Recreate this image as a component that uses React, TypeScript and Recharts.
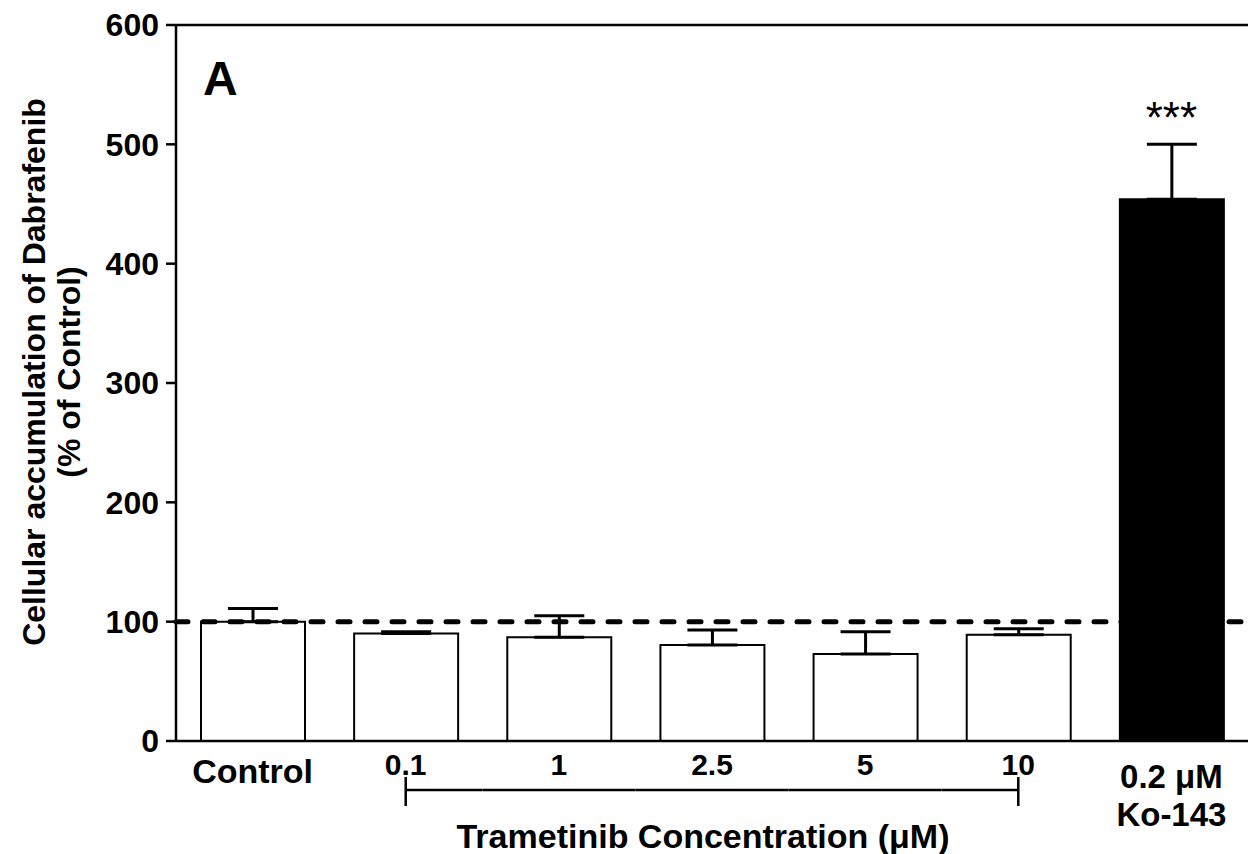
import { BarChart, Bar, XAxis, YAxis, ErrorBar, Cell, ReferenceLine, ReferenceDot } from 'recharts'

// Dabrafenib accumulation (% of control) with trametinib and the Ko-143 positive control
const categories = ['Control', '0.1', '1', '2.5', '5', '10', 'Ko-143']
const tickLines = [['Control'], ['0.1'], ['1'], ['2.5'], ['5'], ['10'], ['0.2 μM', 'Ko-143']]
const accumulation = [100, 90, 87, 80.5, 73, 89, 454]
const sem = [11, 1.5, 18, 12.5, 18.5, 5, 46]
const significance = ['', '', '', '', '', '', '***']
const trametinibDoses = ['0.1', '1', '2.5', '5', '10']
const yTicks = [0, 100, 200, 300, 400, 500, 600]

const W = 1248
const H = 854
const MARGIN = { top: 25, right: 0, bottom: 0, left: 0 }
const Y_AXIS_W = 176
const X_AXIS_H = 113
const AXIS_Y = H - MARGIN.bottom - X_AXIS_H
const HALF_BAND = (W - Y_AXIS_W - MARGIN.left - MARGIN.right) / categories.length / 2
const FONT = '"Liberation Sans", Arial, Helvetica, sans-serif'

const data = categories.map((name, i) => ({
  name,
  value: accumulation[i],
  err: [0, sem[i]],
}))

function CategoryTick({ x, payload }: any) {
  const i = categories.indexOf(payload.value)
  const lines = tickLines[i]
  const dose = trametinibDoses.indexOf(payload.value)
  const last = trametinibDoses.length - 1
  const txt = { fontFamily: FONT, fontWeight: 700, fill: '#000', textAnchor: 'middle' as const }
  return (
    <g>
      {lines.length === 2 ? (
        <>
          <text x={x} y={AXIS_Y + 47} fontSize={33} {...txt}>{lines[0]}</text>
          <text x={x} y={AXIS_Y + 85} fontSize={33} {...txt}>{lines[1]}</text>
        </>
      ) : dose >= 0 ? (
        <text x={x} y={AXIS_Y + 34} fontSize={30} {...txt}>{lines[0]}</text>
      ) : (
        <text x={x} y={AXIS_Y + 42} fontSize={34} {...txt}>{lines[0]}</text>
      )}
      {dose >= 0 && (
        <line
          x1={dose === 0 ? x : x - HALF_BAND}
          x2={dose === last ? x : x + HALF_BAND}
          y1={AXIS_Y + 49}
          y2={AXIS_Y + 49}
          stroke="#000"
          strokeWidth={2.5}
        />
      )}
      {(dose === 0 || dose === last) && (
        <line x1={x} x2={x} y1={AXIS_Y + 36} y2={AXIS_Y + 65} stroke="#000" strokeWidth={2.5} />
      )}
    </g>
  )
}

function XTitle() {
  return (
    <text x={703} y={H - 6} textAnchor="middle" fontFamily={FONT} fontWeight={700} fontSize={34} fill="#000">
      Trametinib Concentration (μM)
    </text>
  )
}

function YTitle() {
  const cy = 372
  const common = { fontFamily: FONT, fontWeight: 700, fontSize: 32, fill: '#000', textAnchor: 'middle' as const }
  return (
    <g>
      <text x={45} y={cy} transform={`rotate(-90, 45, ${cy})`} {...common}>
        Cellular accumulation of Dabrafenib
      </text>
      <text x={80} y={cy} transform={`rotate(-90, 80, ${cy})`} {...common}>
        (% of Control)
      </text>
    </g>
  )
}

export default function App() {
  const sigIndex = significance.findIndex((s) => s !== '')
  return (
    <div style={{ position: 'absolute', left: 0, top: 0, width: W, height: H, background: '#fff' }}>
      <BarChart width={W} height={H} data={data} margin={MARGIN} barSize={104}>
        <XAxis
          dataKey="name"
          height={X_AXIS_H}
          tickLine={false}
          axisLine={{ stroke: '#000', strokeWidth: 2.5 }}
          tick={<CategoryTick />}
          interval={0}
          label={<XTitle />}
        />
        <YAxis
          width={Y_AXIS_W}
          domain={[0, 600]}
          ticks={yTicks}
          interval={0}
          tickSize={10}
          tickMargin={7}
          axisLine={{ stroke: '#000', strokeWidth: 2.5 }}
          tickLine={{ stroke: '#000', strokeWidth: 2.5 }}
          tick={{ fontFamily: FONT, fontWeight: 700, fontSize: 32, fill: '#000' }}
          label={<YTitle />}
        />
        <ReferenceLine y={600} stroke="#000" strokeWidth={2.5} />
        <Bar dataKey="value" stroke="#000" strokeWidth={2} isAnimationActive={false}>
          {data.map((d) => (
            <Cell key={d.name} fill={d.name === 'Ko-143' ? '#000' : '#fff'} />
          ))}
          <ErrorBar dataKey="err" direction="y" width={25} stroke="#000" strokeWidth={3} isAnimationActive={false} />
        </Bar>
        <ReferenceLine y={100} stroke="#000" strokeWidth={5} strokeDasharray="12 15" strokeLinecap="round" />
        {sigIndex >= 0 && (
          <ReferenceDot
            x={categories[sigIndex]}
            y={accumulation[sigIndex] + sem[sigIndex]}
            r={0}
            stroke="none"
            label={{ value: significance[sigIndex], position: 'top', offset: 11, fontSize: 44, fill: '#000', fontFamily: FONT }}
          />
        )}
      </BarChart>
      <svg width={W} height={H} style={{ position: 'absolute', left: 0, top: 0, pointerEvents: 'none' }}>
        <text x={203} y={95} fontFamily={FONT} fontWeight={700} fontSize={48} fill="#000">A</text>
      </svg>
    </div>
  )
}
